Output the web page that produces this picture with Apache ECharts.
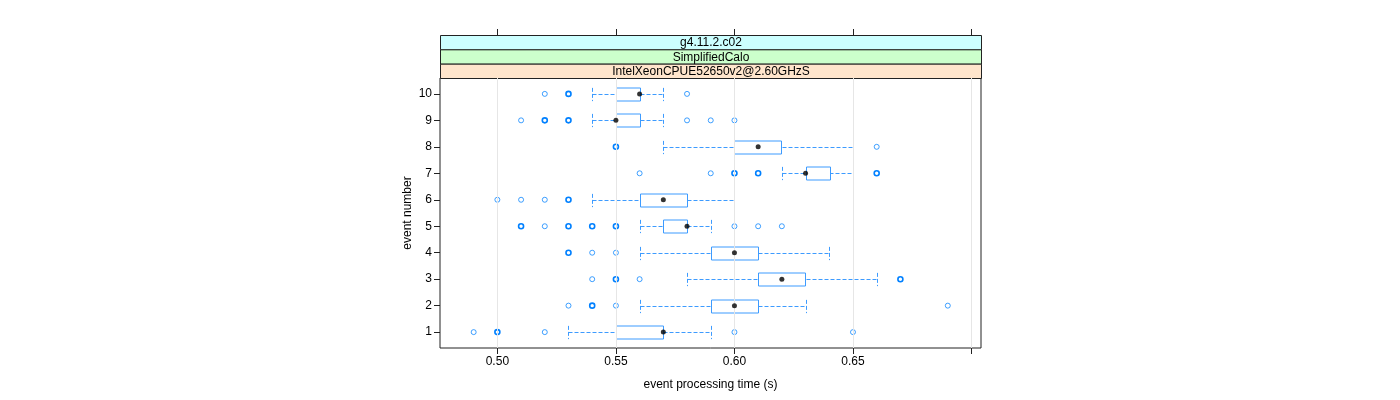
<!DOCTYPE html>
<html>
<head>
<meta charset="utf-8">
<script src="https://cdn.jsdelivr.net/npm/echarts@6/dist/echarts.min.js"></script>
<style>
html,body{margin:0;padding:0;background:#fff;}
#chart{width:1400px;height:400px;}
</style>
</head>
<body>
<div id="chart"></div>
<script>
// ---- data ----
const events = [1, 2, 3, 4, 5, 6, 7, 8, 9, 10];
const whiskerLow  = [0.53, 0.56, 0.58, 0.56, 0.56, 0.54, 0.62, 0.57, 0.54, 0.54];
const q1          = [0.55, 0.59, 0.61, 0.59, 0.57, 0.56, 0.63, 0.60, 0.55, 0.55];
const medians     = [0.57, 0.60, 0.62, 0.60, 0.58, 0.57, 0.63, 0.61, 0.55, 0.56];
const q3          = [0.57, 0.61, 0.63, 0.61, 0.58, 0.58, 0.64, 0.62, 0.56, 0.56];
const whiskerHigh = [0.59, 0.63, 0.66, 0.64, 0.59, 0.60, 0.65, 0.65, 0.57, 0.57];
// outliers: [event, value, count]
const outliers = [
  [1, 0.49, 1], [1, 0.50, 2], [1, 0.52, 1], [1, 0.60, 1], [1, 0.65, 1],
  [2, 0.53, 1], [2, 0.54, 2], [2, 0.55, 1], [2, 0.69, 1],
  [3, 0.54, 1], [3, 0.55, 2], [3, 0.56, 1], [3, 0.67, 2],
  [4, 0.53, 2], [4, 0.54, 1], [4, 0.55, 1],
  [5, 0.51, 2], [5, 0.52, 1], [5, 0.53, 2], [5, 0.54, 2], [5, 0.55, 2], [5, 0.60, 1], [5, 0.61, 1], [5, 0.62, 1],
  [6, 0.50, 1], [6, 0.51, 1], [6, 0.52, 1], [6, 0.53, 2],
  [7, 0.56, 1], [7, 0.59, 1], [7, 0.60, 2], [7, 0.61, 2], [7, 0.66, 2],
  [8, 0.55, 2], [8, 0.66, 1],
  [9, 0.51, 1], [9, 0.52, 2], [9, 0.53, 2], [9, 0.58, 1], [9, 0.59, 1], [9, 0.60, 1],
  [10, 0.52, 1], [10, 0.53, 2], [10, 0.58, 1]
];
const xTicks = [0.50, 0.55, 0.60, 0.65, 0.70];
const xLabels = [0.50, 0.55, 0.60, 0.65];
const stripTexts = ['g4.11.2.c02', 'SimplifiedCalo', 'IntelXeonCPUE52650v2@2.60GHzS'];
const stripColors = ['#ccffff', '#ccffcc', '#ffe5cc'];
const xTitle = 'event processing time (s)';
const yTitle = 'event number';

// ---- layout ----
const G = {left: 440, right: 419, top: 78, bottom: 52};
const plotW = 1400 - G.left - G.right;
const stripH = 14.33;
const BLUE = '#0080ff';
const FONT = 'Liberation Sans, Arial, sans-serif';

const boxData = events.map((e, i) => [e, whiskerLow[i], q1[i], medians[i], q3[i], whiskerHigh[i]]);

function dashStyle() {
  return {stroke: '#3d9bff', lineWidth: 1, lineDash: [4, 2], fill: null};
}

function renderBox(params, api) {
  const y = api.value(0);
  const lo = api.coord([api.value(1), y]);
  const a = api.coord([api.value(2), y]);
  const b = api.coord([api.value(4), y]);
  const hi = api.coord([api.value(5), y]);
  const h = Math.abs(api.size([0, 1])[1]) * 0.25;
  const cy = Math.round(a[1]) + 0.5;
  const px = v => Math.round(v) + 0.5;
  return {
    type: 'group',
    children: [
      {type: 'line', shape: {x1: px(lo[0]), y1: cy, x2: px(a[0]), y2: cy}, style: dashStyle()},
      {type: 'line', shape: {x1: px(b[0]), y1: cy, x2: px(hi[0]), y2: cy}, style: dashStyle()},
      {type: 'line', shape: {x1: px(lo[0]), y1: cy - h, x2: px(lo[0]), y2: cy + h}, style: dashStyle()},
      {type: 'line', shape: {x1: px(hi[0]), y1: cy - h, x2: px(hi[0]), y2: cy + h}, style: dashStyle()},
      {type: 'rect', shape: {x: px(a[0]), y: Math.round(cy - h) , width: Math.round(b[0] - a[0]), height: Math.round(2 * h)},
        style: {stroke: '#3d9bff', lineWidth: 1, fill: '#fff'}}
    ]
  };
}

const chart = echarts.init(document.getElementById('chart'), null, {renderer: 'canvas'});

const graphics = stripTexts.map((t, i) => ({
  type: 'group',
  left: G.left,
  top: G.top - stripH * (3 - i),
  children: [
    {type: 'rect', shape: {x: 0, y: 0, width: plotW, height: stripH},
      style: {fill: stripColors[i], stroke: '#222', lineWidth: 1}},
    {type: 'text', x: plotW / 2, y: stripH / 2 + 0.5,
      style: {text: t, fill: '#000', font: '12px ' + FONT, align: 'center', verticalAlign: 'middle'}}
  ]
}));

chart.setOption({
  animation: false,
  backgroundColor: '#fff',
  grid: {left: G.left, right: G.right, top: G.top, bottom: G.bottom, show: true, borderColor: '#222', borderWidth: 1, backgroundColor: 'transparent'},
  graphic: graphics,
  xAxis: [
    {
      type: 'value', min: 0.4758, max: 0.7040, position: 'bottom',
      name: xTitle, nameLocation: 'middle', nameGap: 31,
      nameTextStyle: {fontFamily: FONT, fontSize: 12, color: '#000'},
      axisLine: {show: false},
      axisTick: {show: true, customValues: xTicks, length: 6, lineStyle: {color: '#222'}},
      axisLabel: {show: true, customValues: xLabels, formatter: v => v.toFixed(2), fontFamily: FONT, fontSize: 12, color: '#000', margin: 8},
      splitLine: {show: false}
    },
    {
      type: 'value', min: 0.4758, max: 0.7040, position: 'top', offset: stripH * 3,
      axisLine: {show: false},
      axisTick: {show: true, customValues: xTicks, length: 6, lineStyle: {color: '#222'}},
      axisLabel: {show: false},
      splitLine: {show: false}
    }
  ],
  yAxis: {
    type: 'value', min: 0.4, max: 10.6,
    name: yTitle, nameLocation: 'middle', nameGap: 26,
    nameTextStyle: {fontFamily: FONT, fontSize: 12, color: '#000'},
    axisLine: {show: false},
    axisTick: {show: true, customValues: events, length: 6, lineStyle: {color: '#222'}},
    axisLabel: {show: true, customValues: events, fontFamily: FONT, fontSize: 12, color: '#000', margin: 8},
    splitLine: {show: false}
  },
  series: [
    {
      type: 'line', data: [], silent: true,
      markLine: {
        silent: true, symbol: 'none', label: {show: false},
        lineStyle: {color: '#e6e6e6', type: 'solid', width: 1},
        data: xTicks.map(v => ({xAxis: v}))
      }
    },
    {
      type: 'custom', renderItem: renderBox, data: boxData,
      encode: {x: [1, 2, 3, 4, 5], y: 0}, silent: true, z: 3
    },
    {
      type: 'scatter', data: outliers.map(o => ({value: [o[1], o[0]],
        itemStyle: {borderWidth: o[2] > 1 ? 1.6 : 1, opacity: o[2] > 1 ? 1 : 0.75}})),
      symbol: 'circle', symbolSize: 5,
      itemStyle: {color: 'transparent', borderColor: BLUE},
      silent: true, z: 4
    },
    {
      type: 'scatter', data: events.map((e, i) => [medians[i], e]),
      symbol: 'circle', symbolSize: 5,
      itemStyle: {color: '#000'}, silent: true, z: 5
    }
  ]
});
</script>
</body>
</html>
